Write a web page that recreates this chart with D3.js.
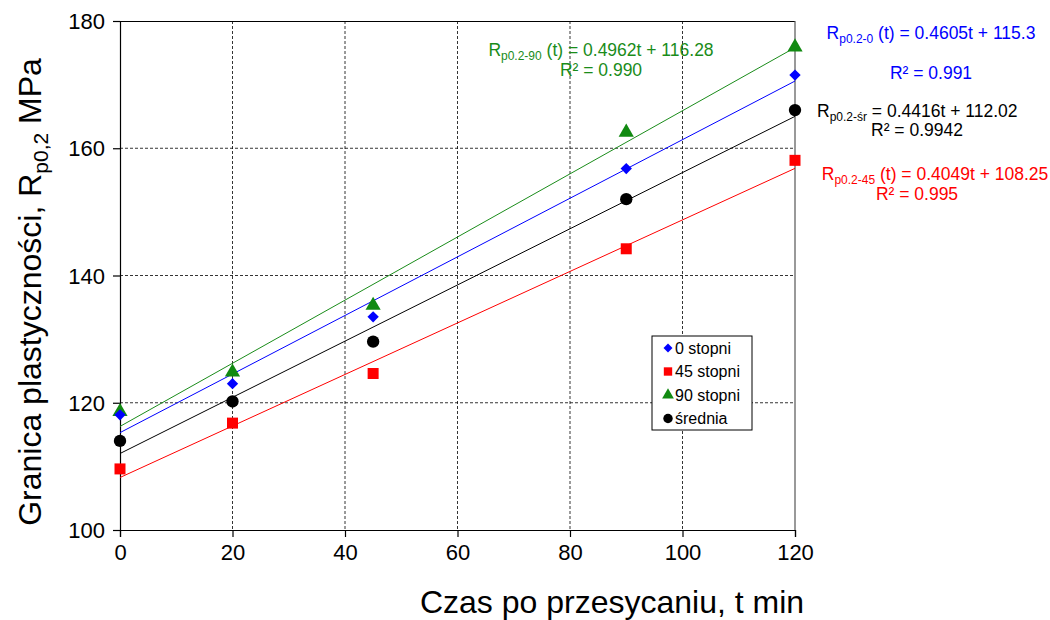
<!DOCTYPE html>
<html>
<head>
<meta charset="utf-8">
<script src="https://cdn.jsdelivr.net/npm/d3@7"></script>
<style>
  body { margin: 0; background: #fff; }
  svg { font-family: "Liberation Sans", Arial, sans-serif; }
</style>
</head>
<body>
<svg id="chart" width="1050" height="620"></svg>
<script>
// Annealing time after solution treatment (min)
const times = [0, 20, 45, 90, 120];
// Yield strength Rp0.2 (MPa) per specimen orientation
const deg0  = [118.1, 123.0, 133.5, 156.8, 171.5];
const deg45 = [109.6, 116.8, 124.6, 144.2, 158.1];
const deg90 = [118.6, 124.8, 135.3, 162.5, 175.9];
const mean  = [114.0, 120.2, 129.6, 152.0, 166.0];
// Linear fits: slope, intercept
const fit0  = [0.4605, 115.3];
const fit45 = [0.4049, 108.25];
const fit90 = [0.4962, 116.28];
const fitMean = [0.4416, 112.02];
const xTicks = [0, 20, 40, 60, 80, 100, 120];
const yTicks = [100, 120, 140, 160, 180];
const seriesNames = ["0 stopni", "45 stopni", "90 stopni", "średnia"];

const svg = d3.select("#chart");
const plotL = 120, plotR = 795, plotT = 21, plotB = 530;
const x = d3.scaleLinear().domain([0, 120]).range([plotL, plotR]);
const y = d3.scaleLinear().domain([100, 180]).range([plotB, plotT]);

// Dashed grid
svg.append("g").selectAll("line").data(xTicks.filter(d => d > 0 && d < 120)).join("line")
  .attr("x1", d => x(d)).attr("x2", d => x(d)).attr("y1", plotT).attr("y2", plotB)
  .attr("stroke", "#000").attr("stroke-width", 0.8).attr("stroke-dasharray", "3,2");
svg.append("g").selectAll("line").data(yTicks.filter(d => d > 100 && d < 180)).join("line")
  .attr("x1", plotL).attr("x2", plotR).attr("y1", d => y(d)).attr("y2", d => y(d))
  .attr("stroke", "#000").attr("stroke-width", 0.8).attr("stroke-dasharray", "3,2");

// Plot frame (top and right)
svg.append("line").attr("x1", plotL).attr("x2", plotR).attr("y1", plotT + 0.5).attr("y2", plotT + 0.5)
  .attr("stroke", "#000").attr("stroke-width", 1);
svg.append("line").attr("x1", plotR).attr("x2", plotR).attr("y1", plotT).attr("y2", plotB)
  .attr("stroke", "#555").attr("stroke-width", 1.2);

// Axes
const xAxis = svg.append("g").attr("transform", `translate(0,${plotB})`)
  .call(d3.axisBottom(x).tickValues(xTicks).tickSize(7).tickPadding(7).tickFormat(d3.format("d")));
const yAxis = svg.append("g").attr("transform", `translate(${plotL},0)`)
  .call(d3.axisLeft(y).tickValues(yTicks).tickSize(7).tickPadding(8).tickFormat(d3.format("d")));
[xAxis, yAxis].forEach(a => {
  a.select(".domain").attr("stroke", "#000").attr("stroke-width", 1.2);
  a.selectAll(".tick line").attr("stroke", "#000").attr("stroke-width", 1.2);
  a.selectAll(".tick text").attr("font-size", 22).attr("fill", "#000")
    .attr("font-family", "Liberation Sans, Arial, sans-serif");
});
yAxis.selectAll(".tick text").attr("dy", "0.35em");

// Trend lines
const fits = [
  { fit: fit90, color: "#1a8c1a" },
  { fit: fit0, color: "#0000ff" },
  { fit: fitMean, color: "#000000" },
  { fit: fit45, color: "#ff0000" }
];
fits.forEach(f => {
  svg.append("line")
    .attr("x1", x(0)).attr("y1", y(f.fit[1]))
    .attr("x2", x(120)).attr("y2", y(f.fit[0] * 120 + f.fit[1]))
    .attr("stroke", f.color).attr("stroke-width", 1);
});

// Markers (diamond = square turned 45°)
const shapeTypes = { diamond: d3.symbolSquare, square: d3.symbolSquare,
  triangle: d3.symbolTriangle, circle: d3.symbolCircle };
const shapeRot = { diamond: 45, square: 0, triangle: 0, circle: 0 };
const series = [
  { vals: deg45, color: "#ff0000", shape: "square", size: 121 },
  { vals: mean, color: "#000000", shape: "circle", size: 120 },
  { vals: deg90, color: "#118a11", shape: "triangle", size: 100 },
  { vals: deg0, color: "#0000ff", shape: "diamond", size: 64 }
];
series.forEach(s => {
  svg.append("g").selectAll("path").data(times).join("path")
    .attr("d", d3.symbol().type(shapeTypes[s.shape]).size(s.size))
    .attr("transform", (t, i) => `translate(${x(t)},${y(s.vals[i])}) rotate(${shapeRot[s.shape]})`)
    .attr("fill", s.color);
});

// Legend
const lg = svg.append("g").attr("transform", "translate(652,336)");
lg.append("rect").attr("width", 100).attr("height", 94).attr("fill", "#fff")
  .attr("stroke", "#000").attr("stroke-width", 1);
const legendItems = [
  { name: seriesNames[0], color: "#0000ff", shape: "diamond", s: 40 },
  { name: seriesNames[1], color: "#ff0000", shape: "square", s: 70 },
  { name: seriesNames[2], color: "#118a11", shape: "triangle", s: 60 },
  { name: seriesNames[3], color: "#000000", shape: "circle", s: 70 }
];
legendItems.forEach((it, i) => {
  const yy = 12 + i * 23.5;
  lg.append("path").attr("d", d3.symbol().type(shapeTypes[it.shape]).size(it.s)())
    .attr("transform", `translate(16,${yy}) rotate(${shapeRot[it.shape]})`).attr("fill", it.color);
  lg.append("text").attr("x", 23).attr("y", yy).attr("dy", "0.35em")
    .attr("font-size", 16).attr("fill", "#000").text(it.name);
});

// Regression annotations
function eq(xp, yp, anchor, color, sub, rest) {
  const t = svg.append("text").attr("x", xp).attr("y", yp).attr("text-anchor", anchor)
    .attr("font-size", 17.5).attr("fill", color);
  t.append("tspan").text("R");
  t.append("tspan").attr("font-size", 12).attr("dy", 4).text(sub);
  t.append("tspan").attr("dy", -4).text(rest);
}
function r2(xp, yp, color, txt) {
  svg.append("text").attr("x", xp).attr("y", yp).attr("text-anchor", "middle")
    .attr("font-size", 17.5).attr("fill", color).text(txt);
}
eq(601, 56, "middle", "#1a8c1a", "p0.2-90", " (t) = 0.4962t + 116.28");
r2(601, 76, "#1a8c1a", "R² = 0.990");
eq(931, 39, "middle", "#0000ff", "p0.2-0", " (t) = 0.4605t + 115.3");
r2(931, 79, "#0000ff", "R² = 0.991");
eq(817, 117, "start", "#000000", "p0.2-śr", " = 0.4416t + 112.02");
r2(917, 136, "#000000", "R² = 0.9942");
eq(935, 180, "middle", "#ff0000", "p0.2-45", " (t) = 0.4049t + 108.25");
r2(917, 200, "#ff0000", "R² = 0.995");

// Axis titles
svg.append("text").attr("x", 612).attr("y", 613).attr("text-anchor", "middle")
  .attr("font-size", 32).attr("fill", "#000").text("Czas po przesycaniu, t min");
const yt = svg.append("text").attr("transform", "translate(41,292) rotate(-90)")
  .attr("text-anchor", "middle").attr("font-size", 32).attr("fill", "#000");
yt.append("tspan").text("Granica plastyczności, R");
yt.append("tspan").attr("font-size", 21).attr("dy", 7).text("p0,2");
yt.append("tspan").attr("dy", -7).text(" MPa");
</script>
</body>
</html>
